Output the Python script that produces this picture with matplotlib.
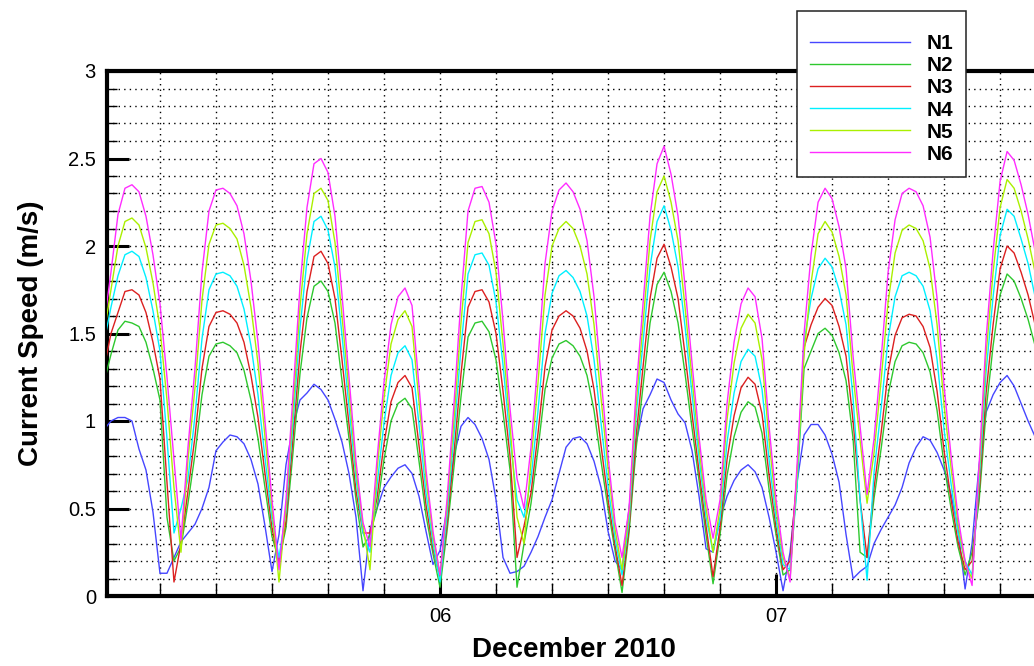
import numpy as np
import pandas as pd
import matplotlib
matplotlib.use('Agg')
import matplotlib.pyplot as plt
import matplotlib.dates as mdates
from matplotlib.ticker import MultipleLocator, FuncFormatter

plt.rcParams['font.family'] = ['Liberation Sans', 'DejaVu Sans']

# ---- data: half-hourly current speed (m/s), starting 2010-12-05 00:00 ----
START = '2010-12-05 00:00'
STEP = '30min'

names = ['N1', 'N2', 'N3', 'N4', 'N5', 'N6']
colors = ['#4646ff', '#2ec82e', '#dc2020', '#00f0ff', '#aaf000', '#ff2cff']

n1 = [0.95, 1.00, 1.02, 1.02, 1.00, 0.84, 0.72, 0.48, 0.13, 0.13,
      0.22, 0.31, 0.36, 0.41, 0.50, 0.62, 0.83, 0.88, 0.92, 0.91,
      0.87, 0.78, 0.64, 0.40, 0.14, 0.35, 0.75, 0.97, 1.12, 1.16,
      1.21, 1.18, 1.12, 1.01, 0.88, 0.70, 0.45, 0.03, 0.38, 0.50,
      0.62, 0.68, 0.73, 0.75, 0.70, 0.57, 0.37, 0.18, 0.26, 0.50,
      0.80, 0.97, 1.02, 0.98, 0.90, 0.78, 0.55, 0.22, 0.13, 0.14,
      0.17, 0.25, 0.34, 0.45, 0.55, 0.70, 0.85, 0.90, 0.91, 0.87,
      0.77, 0.62, 0.37, 0.20, 0.15, 0.50, 0.87, 1.07, 1.15, 1.24,
      1.22, 1.12, 1.04, 0.99, 0.83, 0.57, 0.27, 0.25, 0.44, 0.57,
      0.66, 0.72, 0.75, 0.71, 0.62, 0.45, 0.25, 0.03, 0.25, 0.65,
      0.92, 0.98, 0.98, 0.92, 0.81, 0.65, 0.35, 0.10, 0.14, 0.17,
      0.30, 0.38, 0.45, 0.52, 0.62, 0.76, 0.85, 0.91, 0.89, 0.82,
      0.72, 0.58, 0.38, 0.04, 0.30, 0.75, 1.05, 1.15, 1.22, 1.26,
      1.20, 1.10, 1.00, 0.91, 0.82]

n2 = [1.22, 1.38, 1.52, 1.57, 1.56, 1.54, 1.45, 1.30, 1.12, 0.45,
      0.20, 0.28, 0.53, 0.81, 1.15, 1.37, 1.44, 1.45, 1.43, 1.39,
      1.29, 1.12, 0.90, 0.62, 0.34, 0.20, 0.39, 0.82, 1.27, 1.59,
      1.77, 1.80, 1.74, 1.56, 1.23, 0.90, 0.55, 0.28, 0.35, 0.50,
      0.78, 1.00, 1.10, 1.13, 1.07, 0.77, 0.46, 0.24, 0.05, 0.37,
      0.74, 1.14, 1.48, 1.56, 1.57, 1.51, 1.35, 1.05, 0.72, 0.05,
      0.30, 0.53, 0.84, 1.18, 1.36, 1.44, 1.46, 1.43, 1.37, 1.26,
      1.06, 0.77, 0.50, 0.26, 0.02, 0.36, 0.84, 1.20, 1.56, 1.78,
      1.85, 1.74, 1.56, 1.27, 0.96, 0.66, 0.35, 0.07, 0.35, 0.69,
      0.91, 1.05, 1.11, 1.08, 0.93, 0.61, 0.35, 0.12, 0.15, 0.65,
      1.30, 1.40, 1.50, 1.53, 1.49, 1.39, 1.23, 0.90, 0.25, 0.22,
      0.56, 0.84, 1.15, 1.34, 1.43, 1.45, 1.44, 1.39, 1.28, 1.06,
      0.75, 0.50, 0.28, 0.12, 0.25, 0.54, 1.06, 1.43, 1.72, 1.84,
      1.80, 1.70, 1.58, 1.43, 1.25]

n3 = [1.30, 1.50, 1.62, 1.74, 1.75, 1.72, 1.62, 1.45, 1.24, 0.65,
      0.08, 0.30, 0.60, 0.91, 1.30, 1.54, 1.62, 1.63, 1.61, 1.56,
      1.45, 1.26, 1.02, 0.70, 0.39, 0.18, 0.43, 0.90, 1.39, 1.74,
      1.94, 1.97, 1.90, 1.70, 1.35, 0.98, 0.60, 0.36, 0.36, 0.56,
      0.87, 1.11, 1.22, 1.26, 1.19, 0.86, 0.52, 0.27, 0.10, 0.41,
      0.82, 1.27, 1.65, 1.74, 1.75, 1.68, 1.50, 1.17, 0.80, 0.22,
      0.40, 0.59, 0.93, 1.31, 1.52, 1.60, 1.63, 1.60, 1.53, 1.40,
      1.18, 0.86, 0.55, 0.29, 0.06, 0.39, 0.91, 1.31, 1.70, 1.93,
      2.01, 1.88, 1.70, 1.38, 1.04, 0.71, 0.40, 0.11, 0.39, 0.78,
      1.03, 1.19, 1.25, 1.21, 1.04, 0.69, 0.39, 0.15, 0.20, 0.70,
      1.42, 1.55, 1.65, 1.70, 1.66, 1.54, 1.37, 1.00, 0.55, 0.22,
      0.62, 0.93, 1.28, 1.49, 1.59, 1.61, 1.60, 1.54, 1.42, 1.17,
      0.83, 0.55, 0.31, 0.15, 0.20, 0.59, 1.16, 1.55, 1.87, 2.00,
      1.96, 1.85, 1.72, 1.55, 1.35]

n4 = [1.45, 1.65, 1.83, 1.95, 1.97, 1.94, 1.82, 1.63, 1.40, 0.90,
      0.36, 0.50, 0.67, 1.03, 1.47, 1.75, 1.84, 1.85, 1.83, 1.77,
      1.64, 1.43, 1.15, 0.79, 0.44, 0.22, 0.48, 0.99, 1.53, 1.92,
      2.14, 2.17, 2.09, 1.88, 1.49, 1.08, 0.67, 0.36, 0.25, 0.63,
      0.99, 1.26, 1.39, 1.43, 1.35, 0.98, 0.59, 0.30, 0.08, 0.46,
      0.92, 1.42, 1.84, 1.95, 1.96, 1.89, 1.68, 1.32, 0.90, 0.55,
      0.45, 0.67, 1.06, 1.50, 1.73, 1.83, 1.86, 1.82, 1.74, 1.60,
      1.35, 0.99, 0.63, 0.33, 0.12, 0.43, 1.02, 1.45, 1.88, 2.14,
      2.23, 2.09, 1.88, 1.54, 1.15, 0.79, 0.45, 0.25, 0.44, 0.88,
      1.16, 1.34, 1.41, 1.37, 1.18, 0.78, 0.44, 0.18, 0.15, 0.62,
      1.45, 1.70, 1.87, 1.93, 1.88, 1.75, 1.55, 1.13, 0.55, 0.09,
      0.71, 1.07, 1.47, 1.71, 1.83, 1.85, 1.83, 1.77, 1.63, 1.35,
      0.95, 0.64, 0.36, 0.20, 0.12, 0.65, 1.28, 1.71, 2.06, 2.21,
      2.17, 2.04, 1.90, 1.71, 1.50]

n5 = [1.50, 1.75, 2.00, 2.14, 2.16, 2.12, 1.99, 1.79, 1.53, 1.12,
      0.62, 0.25, 0.78, 1.19, 1.69, 2.01, 2.12, 2.13, 2.10, 2.04,
      1.89, 1.65, 1.33, 0.91, 0.50, 0.08, 0.51, 1.07, 1.65, 2.07,
      2.30, 2.33, 2.26, 2.02, 1.60, 1.17, 0.72, 0.40, 0.15, 0.72,
      1.13, 1.44, 1.58, 1.63, 1.54, 1.11, 0.67, 0.34, 0.12, 0.51,
      1.01, 1.56, 2.02, 2.14, 2.15, 2.07, 1.85, 1.44, 0.98, 0.45,
      0.30, 0.77, 1.22, 1.72, 2.00, 2.10, 2.14, 2.10, 2.00, 1.84,
      1.55, 1.13, 0.73, 0.38, 0.15, 0.47, 1.09, 1.56, 2.03, 2.31,
      2.40, 2.25, 2.03, 1.65, 1.24, 0.85, 0.50, 0.25, 0.50, 1.01,
      1.33, 1.53, 1.61, 1.56, 1.35, 0.89, 0.50, 0.22, 0.10, 0.69,
      1.38, 1.79, 2.07, 2.14, 2.08, 1.94, 1.72, 1.26, 0.89, 0.53,
      0.82, 1.23, 1.68, 1.96, 2.09, 2.12, 2.10, 2.03, 1.87, 1.55,
      1.09, 0.73, 0.41, 0.18, 0.10, 0.70, 1.38, 1.85, 2.22, 2.38,
      2.33, 2.20, 2.04, 1.85, 1.61]

n6 = [1.55, 1.85, 2.18, 2.33, 2.35, 2.31, 2.17, 1.95, 1.67, 1.25,
      0.78, 0.32, 0.85, 1.30, 1.85, 2.20, 2.32, 2.33, 2.30, 2.23,
      2.07, 1.80, 1.45, 1.00, 0.55, 0.15, 0.55, 1.15, 1.77, 2.22,
      2.47, 2.50, 2.42, 2.17, 1.72, 1.25, 0.77, 0.42, 0.28, 0.78,
      1.22, 1.55, 1.71, 1.76, 1.66, 1.20, 0.72, 0.37, 0.12, 0.55,
      1.10, 1.70, 2.20, 2.33, 2.34, 2.25, 2.01, 1.57, 1.07, 0.67,
      0.50, 0.85, 1.35, 1.90, 2.20, 2.32, 2.36, 2.31, 2.21, 2.03,
      1.71, 1.25, 0.80, 0.42, 0.22, 0.50, 1.17, 1.67, 2.17, 2.47,
      2.57, 2.41, 2.17, 1.77, 1.33, 0.91, 0.55, 0.33, 0.55, 1.10,
      1.45, 1.67, 1.76, 1.71, 1.47, 0.97, 0.55, 0.25, 0.08, 0.75,
      1.50, 1.95, 2.25, 2.33, 2.27, 2.11, 1.87, 1.37, 0.97, 0.58,
      0.90, 1.35, 1.85, 2.15, 2.30, 2.33, 2.31, 2.23, 2.05, 1.70,
      1.20, 0.80, 0.45, 0.20, 0.06, 0.75, 1.47, 1.97, 2.37, 2.54,
      2.49, 2.35, 2.18, 1.97, 1.72]

series = [n1, n2, n3, n4, n5, n6]
times = pd.date_range(START, periods=len(n1), freq=STEP)

# ---- figure ----
W, H = 1034, 666
fig = plt.figure(figsize=(W / 100, H / 100), dpi=100)
ax = fig.add_axes([107 / W, 70 / H, 933 / W, 525 / H])

handles = []
for name, col, vals in zip(names, colors, series):
    h, = ax.plot(times, vals, color=col, lw=1.0, label=name, zorder=3)
    handles.append(h)

ax.set_xlim(pd.Timestamp('2010-12-05 00:13'), pd.Timestamp('2010-12-07 18:51'))
ax.set_ylim(0, 3)

ax.xaxis.set_major_locator(mdates.DayLocator())
ax.xaxis.set_major_formatter(mdates.DateFormatter('%d'))
ax.xaxis.set_minor_locator(mdates.HourLocator(byhour=range(0, 24, 4)))
ax.yaxis.set_major_locator(MultipleLocator(0.5))
ax.yaxis.set_minor_locator(MultipleLocator(0.1))
ax.yaxis.set_major_formatter(FuncFormatter(lambda v, p: f'{v:g}'))

ax.set_axisbelow(True)
ax.grid(which='both', color='black', linestyle=(0, (1, 3)), linewidth=1.0)

for side in ['left', 'bottom', 'top']:
    ax.spines[side].set_linewidth(3.0)
    ax.spines[side].set_color('black')
ax.spines['right'].set_visible(False)

ax.tick_params(axis='both', which='major', direction='in', length=16, width=2.2,
               labelsize=14.5, pad=8, top=False, right=False, colors='black')
ax.tick_params(axis='y', which='minor', direction='in', length=7.5, width=1.0,
               right=False)
ax.tick_params(axis='x', which='minor', direction='in', length=9.5, width=1.0,
               top=False)

ax.set_xlabel('December 2010', fontsize=20, fontweight='bold')
ax.xaxis.set_label_coords(0.5, -0.078)
ax.set_ylabel('Current Speed (m/s)', fontsize=20, fontweight='bold')
ax.yaxis.set_label_coords(-0.0675, 0.5)

leg = fig.legend(handles, names, loc='upper left',
                 bbox_to_anchor=(797 / W, 1 - 11 / H), borderaxespad=0,
                 frameon=True, fancybox=False, shadow=False, framealpha=1,
                 edgecolor='#222222', facecolor='white',
                 prop={'family': 'Liberation Sans', 'weight': 'bold', 'size': 15},
                 title=' ', title_fontsize=5.0,
                 handlelength=4.8, handletextpad=0.8, borderpad=0.625,
                 labelspacing=0.15)
leg.get_frame().set_linewidth(1.1)

fig.savefig('out.png', dpi=100)
